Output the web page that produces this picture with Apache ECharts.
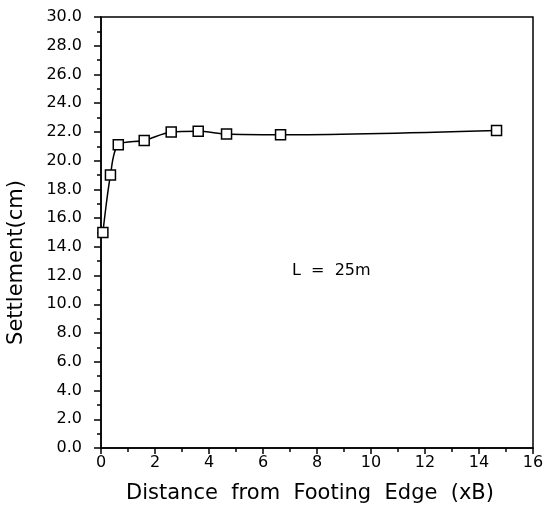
<!DOCTYPE html>
<html><head><meta charset="utf-8">
<script src="https://cdn.jsdelivr.net/npm/echarts@6/dist/echarts.min.js"></script>
<style>html,body{margin:0;padding:0;background:#fff}#c{width:543px;height:508px}</style>
</head><body><div id="c"></div>
<script>
const distance = [0.07, 0.35, 0.64, 1.6, 2.6, 3.6, 4.65, 6.65, 14.65];
const settlement = [15.0, 19.0, 21.1, 21.4, 22.0, 22.05, 21.85, 21.8, 22.1];
const xTitle = 'Distance  from  Footing  Edge  (xB)';
const yTitle = 'Settlement(cm)';
const note = 'L  =  25m';

const chart = echarts.init(document.getElementById('c'));
const font = 'DejaVu Sans';
chart.setOption({
  animation: false,
  grid: {left: 101, right: 10, top: 17, bottom: 60, show: true, borderColor: '#000', borderWidth: 1.5,
    outerBoundsMode: 'none', containLabel: false},
  xAxis: {
    type: 'value', min: 0, max: 16, interval: 2,
    name: xTitle, nameLocation: 'middle', nameGap: 35,
    nameTextStyle: {fontFamily: font, fontSize: 21, color: '#000', padding: [0, 14, 0, 0]},
    axisLine: {lineStyle: {color: '#000', width: 1.5}},
    axisTick: {length: 6, lineStyle: {color: '#000', width: 1.5}},
    minorTick: {show: true, splitNumber: 2, length: 4, lineStyle: {color: '#000', width: 1.5}},
    axisLabel: {fontFamily: font, fontSize: 16, color: '#000', margin: 7},
    splitLine: {show: false}
  },
  yAxis: {
    type: 'value', min: 0, max: 30, interval: 2,
    name: yTitle, nameLocation: 'middle', nameGap: 74, nameRotate: 90,
    nameTextStyle: {fontFamily: font, fontSize: 21, color: '#000', padding: [0, 60, 0, 0]},
    axisLine: {lineStyle: {color: '#000', width: 1.5}},
    axisTick: {length: 7, lineStyle: {color: '#000', width: 1.5}},
    minorTick: {show: true, splitNumber: 2, length: 4, lineStyle: {color: '#000', width: 1.5}},
    axisLabel: {fontFamily: font, fontSize: 16, color: '#000', margin: 19,
      formatter: v => v.toFixed(1)},
    splitLine: {show: false}
  },
  graphic: [{type: 'text', left: 292, top: 263,
    style: {text: note, fontFamily: font, fontSize: 16, fill: '#000'}}],
  series: [{
    type: 'line',
    data: distance.map((d, i) => [d, settlement[i]]),
    smooth: 0.3,
    symbol: 'rect', symbolSize: 10,
    lineStyle: {color: '#000', width: 1.5},
    itemStyle: {color: '#fff', borderColor: '#000', borderWidth: 1.5}
  }]
});
</script></body></html>
